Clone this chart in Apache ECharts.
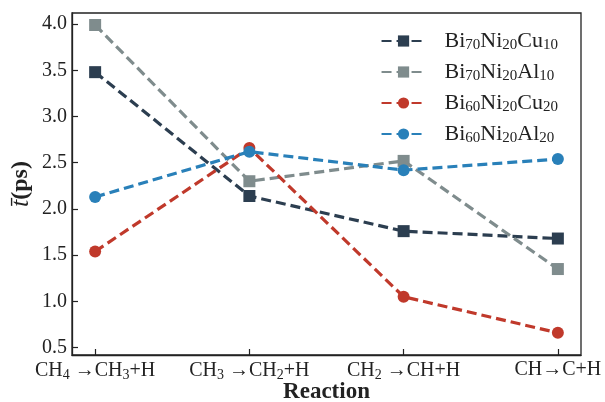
<!DOCTYPE html>
<html>
<head>
<meta charset="utf-8">
<script src="https://cdn.jsdelivr.net/npm/echarts@6/dist/echarts.min.js"></script>
<style>
  html, body { margin: 0; padding: 0; background: #ffffff; }
  #chart { width: 605px; height: 402px; }
</style>
</head>
<body>
<div id="chart"></div>
<script>
// Reaction steps (rich-text markup: {s|..} is a subscript)
const reactions = [
  'CH{s|4} \u2192CH{s|3}+H',
  'CH{s|3} \u2192CH{s|2}+H',
  'CH{s|2} \u2192CH+H',
  'CH\u2192C+H'
];
const yTicks = [0.5, 1.0, 1.5, 2.0, 2.5, 3.0, 3.5, 4.0];

// Mean time (ps) per reaction for each alloy
const bi70ni20cu10 = [3.48, 2.14, 1.76, 1.68];
const bi70ni20al10 = [3.99, 2.30, 2.52, 1.35];
const bi60ni20cu20 = [1.54, 2.66, 1.05, 0.66];
const bi60ni20al20 = [2.13, 2.62, 2.42, 2.54];

const seriesDefs = [
  { name: 'Bi{s|70}Ni{s|20}Cu{s|10}', data: bi70ni20cu10, color: '#2c3e50', symbol: 'rect' },
  { name: 'Bi{s|70}Ni{s|20}Al{s|10}', data: bi70ni20al10, color: '#7f8c8d', symbol: 'rect' },
  { name: 'Bi{s|60}Ni{s|20}Cu{s|20}', data: bi60ni20cu20, color: '#c0392b', symbol: 'circle' },
  { name: 'Bi{s|60}Ni{s|20}Al{s|20}', data: bi60ni20al20, color: '#2980b9', symbol: 'circle' }
];

const serif = '"Liberation Serif", "DejaVu Serif", serif';
const ink = '#222';

const chart = echarts.init(document.getElementById('chart'), null, { renderer: 'canvas' });

chart.setOption({
  animation: false,
  backgroundColor: '#ffffff',
  grid: {
    left: 72, right: 24, top: 13, bottom: 47,
    containLabel: false,
    outerBoundsMode: 'none',
    show: true, borderColor: ink, borderWidth: 1.3, backgroundColor: 'transparent'
  },
  legend: {
    right: 42, top: 25,
    orient: 'vertical',
    itemWidth: 44, itemHeight: 14, itemGap: 8,
    textStyle: {
      fontFamily: serif, fontSize: 22, color: ink,
      padding: [0, 0, 0, 14],
      rich: {
        s: { fontSize: 15, fontFamily: serif, color: ink, padding: [9, 0, 0, 0] }
      }
    },
    data: seriesDefs.map(d => d.name)
  },
  xAxis: {
    type: 'value',
    min: -0.15, max: 3.15,
    splitLine: { show: false },
    axisLine: { show: true, onZero: false, lineStyle: { color: ink, width: 1.3 } },
    axisTick: { show: true, inside: true, length: 6, customValues: [0, 1, 2, 3], lineStyle: { color: ink, width: 1.2 } },
    axisLabel: {
      customValues: [0, 1, 2, 3],
      margin: 5,
      fontFamily: serif, fontSize: 20, color: ink,
      rich: {
        s: { fontSize: 14, fontFamily: serif, color: ink, padding: [8, 0, 0, 0] }
      },
      formatter: v => reactions[Math.round(v)]
    },
    name: 'Reaction',
    nameLocation: 'middle',
    nameMoveOverlap: false,
    nameGap: 26,
    nameTextStyle: { fontFamily: serif, fontSize: 23, fontWeight: 'bold', color: ink }
  },
  yAxis: {
    type: 'value',
    min: 0.42, max: 4.12,
    splitLine: { show: false },
    axisLine: { show: true, onZero: false, lineStyle: { color: ink, width: 1.3 } },
    axisTick: { show: true, inside: true, length: 6, customValues: yTicks, lineStyle: { color: ink, width: 1.2 } },
    axisLabel: {
      customValues: yTicks,
      margin: 5,
      fontFamily: serif, fontSize: 20, color: ink,
      formatter: v => v.toFixed(1)
    },
    name: '{it|t\u0304}{b|(ps)}',
    nameLocation: 'middle',
    nameMoveOverlap: false,
    nameRotate: 90,
    nameGap: 38,
    nameTextStyle: {
      rich: {
        it: { fontFamily: serif, fontStyle: 'italic', fontSize: 26, color: ink },
        b: { fontFamily: serif, fontWeight: 'bold', fontSize: 24, color: ink }
      }
    }
  },
  series: seriesDefs.map(d => ({
    name: d.name,
    type: 'line',
    data: d.data.map((v, i) => [i, v]),
    symbol: d.symbol,
    symbolSize: 12,
    showSymbol: true,
    itemStyle: { color: d.color },
    lineStyle: { color: d.color, width: 3.2, type: [10, 5] },
    z: 2
  }))
});
</script>
</body>
</html>
